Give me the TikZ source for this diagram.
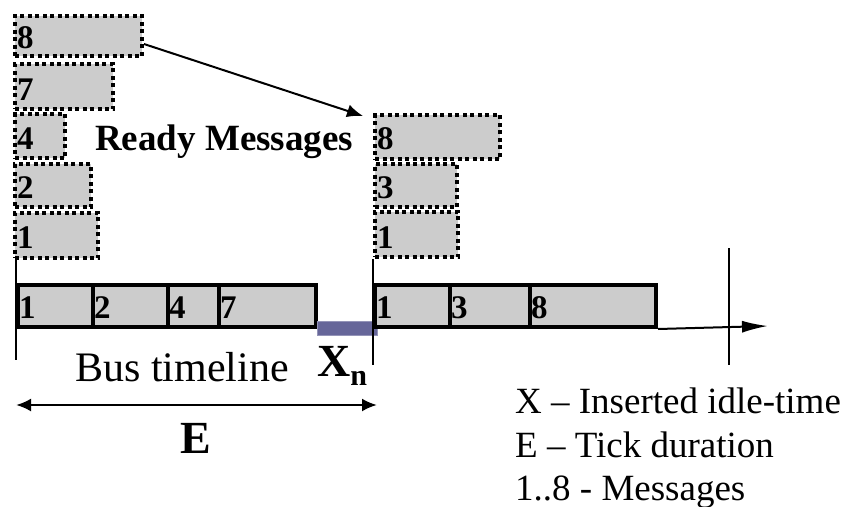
\documentclass[tikz,border=0pt]{standalone}
\usepackage{fontspec}
\setmainfont{Liberation Serif}
\usetikzlibrary{arrows.meta,calc}
\definecolor{msgfill}{HTML}{CCCCCC}
\definecolor{idlefill}{HTML}{666699}
\begin{document}
\begin{tikzpicture}[x=1pt,y=-1pt,
  ready/.style={draw=black, fill=msgfill, line width=4pt, dash pattern=on 4pt off 3.5pt,
    inner sep=0pt, anchor=north west, minimum height=#1},
  slot/.style={draw=black, fill=msgfill, line width=4pt, inner sep=0pt,
    anchor=north west, minimum height=42pt},
  msgnum/.style={font=\fontsize{33}{36}\selectfont\bfseries, inner sep=0pt, anchor=base west},
  tickline/.style={line width=2pt}]
\useasboundingbox (0,0) rectangle (846,506);

% ready queue before the tick
\node[ready=40pt, minimum width=127pt] (l8) at (13,14) {};
\node[ready=45pt, minimum width=98pt]  (l7) at (13,62) {};
\node[ready=44pt, minimum width=50pt]  (l4) at (13,112) {};
\node[ready=43pt, minimum width=76pt]  (l2) at (13,162) {};
\node[ready=45pt, minimum width=83pt]  (l1) at (13,211) {};
\node[msgnum] at (17,48)  {8};
\node[msgnum] at (17,100) {7};
\node[msgnum] at (17,149) {4};
\node[msgnum] at (17,198) {2};
\node[msgnum] at (17,248) {1};

% ready queue after the tick
\node[ready=44pt, minimum width=125pt] (r8) at (373,113) {};
\node[ready=43pt, minimum width=82pt]  (r3) at (373,162) {};
\node[ready=45pt, minimum width=83pt]  (r1) at (373,210) {};
\node[msgnum] at (377,149) {8};
\node[msgnum] at (377,198) {3};
\node[msgnum] at (377,248) {1};

\node[font=\fontsize{37}{44}\selectfont\bfseries, inner sep=0pt, anchor=base west] (ready) at (95,150) {Ready Messages};

% message 8 moves to the next ready queue
\coordinate (tip) at (363,116);
\draw[line width=2pt, -{Latex[length=16pt,width=13pt]}] ($(l8.east)+(0,8)$) -- (tip);

% bus timeline, first tick
\node[slot, minimum width=75pt] (b1) at (16,283) {};
\node[slot, minimum width=75pt] (b2) at (91,283) {};
\node[slot, minimum width=51pt] (b4) at (166,283) {};
\node[slot, minimum width=97pt] (b7) at (217,283) {};
\node[msgnum] at (19,318) {1};
\node[msgnum] at (94,318) {2};
\node[msgnum] at (169,318) {4};
\node[msgnum] at (220,318) {7};

% inserted idle time
\node[fill=idlefill, draw=idlefill!70!white, line width=0.5pt, inner sep=0pt, minimum width=60pt, minimum height=14pt, anchor=north west] (idle) at (317,321) {};

% bus timeline, second tick
\node[slot, minimum width=75pt]  (c1) at (373,283) {};
\node[slot, minimum width=80pt]  (c3) at (448,283) {};
\node[slot, minimum width=126pt] (c8) at (528,283) {};
\node[msgnum] at (376,318) {1};
\node[msgnum] at (451,318) {3};
\node[msgnum] at (531,318) {8};

% tick boundaries
\coordinate (t0) at (16,360);
\coordinate (t1) at (373,365);
\coordinate (t2a) at (729,248);
\coordinate (t2b) at (729,365);
\draw[tickline] (l1.south west -| t0) -- (t0);
\draw[tickline] (r1.south west) -- (t1);
\draw[tickline] (t2a) -- (t2b);

% time axis
\coordinate (axisend) at (768,326);
\draw[line width=2pt, -{Latex[length=26pt,width=12pt]}] (c8.south east) -- (axisend);

% labels below the timeline
\node[font=\fontsize{42}{50}\selectfont, inner sep=0pt, anchor=base west] (bus) at (75,381) {Bus timeline};
\node[font=\fontsize{46}{55}\selectfont\bfseries, inner sep=0pt, anchor=base west] (xn) at (317,376)
  {X\raisebox{-0.2em}{\fontsize{30}{30}\selectfont\bfseries n}};

% tick duration
\coordinate (e0) at (16,405);
\coordinate (e1) at (377,405);
\draw[line width=2.5pt, {Latex[length=15pt,width=13pt]}-{Latex[length=15pt,width=13pt]}] (e0) -- (e1);
\node[font=\fontsize{46}{55}\selectfont\bfseries, inner sep=0pt, anchor=base] (E) at (196,453) {E};

% legend
\node[font=\fontsize{37}{44}\selectfont, inner sep=0pt, anchor=base west] (lx) at (515,413) {X – Inserted idle-time};
\node[font=\fontsize{37}{44}\selectfont, inner sep=0pt, anchor=base west] (le) at (515,457) {E – Tick duration};
\node[font=\fontsize{37}{44}\selectfont, inner sep=0pt, anchor=base west] (lm) at (515,500) {1..8 - Messages};
\end{tikzpicture}
\end{document}
